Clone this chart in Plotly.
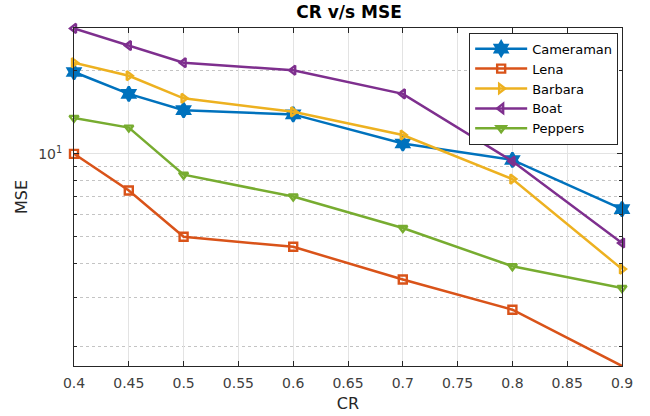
import math
import plotly.graph_objects as go

cr = [0.4, 0.45, 0.5, 0.6, 0.7, 0.8, 0.9]
cameraman = [19.8, 16.5, 14.4, 13.9, 10.9, 9.5, 6.3]
lena = [10.0, 7.36, 5.0, 4.6, 3.5, 2.72, 1.70]
barbara = [21.4, 19.2, 15.9, 14.2, 11.7, 8.1, 3.82]
boat = [28.5, 24.7, 21.4, 20.1, 16.5, 9.4, 4.75]
peppers = [13.5, 12.45, 8.4, 7.0, 5.38, 3.91, 3.26]

x_ticks = [0.4, 0.45, 0.5, 0.55, 0.6, 0.65, 0.7, 0.75, 0.8, 0.85, 0.9]
x_labels = ["0.4", "0.45", "0.5", "0.55", "0.6", "0.65", "0.7", "0.75", "0.8", "0.85", "0.9"]
y_major = [10]
y_major_labels = ["10<sup>1</sup>"]
y_minor = [2, 3, 4, 5, 6, 7, 8, 9, 20]

series = [
    ("Cameraman", cameraman, "#0072BD", "hexagram"),
    ("Lena", lena, "#D95319", "square-open"),
    ("Barbara", barbara, "#EDB120", "triangle-right-open"),
    ("Boat", boat, "#7E2F8E", "triangle-left-open"),
    ("Peppers", peppers, "#77AC30", "triangle-down-open"),
]

fig = go.Figure()
for name, vals, color, sym in series:
    fig.add_trace(go.Scatter(
        x=cr, y=vals, name=name, mode="lines+markers",
        line=dict(color=color, width=2.5),
        marker=dict(symbol=sym, size=8 if sym != "hexagram" else 11,
                    color=color, line=dict(color=color, width=2.4)),
        cliponaxis=False,
    ))

font_family = "DejaVu Sans, Verdana, sans-serif"
fig.update_layout(
    width=650, height=416,
    margin=dict(l=74, r=28, t=28, b=50),
    paper_bgcolor="white", plot_bgcolor="white",
    font=dict(family=font_family, size=14, color="#262626"),
    title=dict(text="<b>CR v/s MSE</b>", x=349 / 650,
               xanchor="center", xref="container", yref="container",
               y=1 - 12 / 416, yanchor="middle",
               font=dict(size=17, color="#000000", family=font_family)),
    legend=dict(x=0.993, y=0.986, xanchor="right", yanchor="top",
                bgcolor="white", bordercolor="#262626", borderwidth=1,
                font=dict(size=13, color="#000000"),
                tracegroupgap=0, itemwidth=52,
                itemsizing="trace"),
    showlegend=True,
)
fig.update_xaxes(
    range=[0.4, 0.9], tickvals=x_ticks, ticktext=x_labels,
    showgrid=True, gridcolor="#e3e3e3", gridwidth=1,
    ticks="inside", ticklen=5, tickcolor="#262626",
    showline=True, linecolor="#262626", linewidth=1, mirror="ticks",
    zeroline=False, ticklabelstandoff=4, automargin=False,
    title=dict(text="CR", standoff=8, font=dict(size=16)),
    tickfont=dict(size=14, color="#404040"),
)
fig.update_yaxes(
    type="log", range=[math.log10(1.70), math.log10(28.6)],
    tickvals=y_major, ticktext=y_major_labels,
    showgrid=True, gridcolor="#e3e3e3", gridwidth=1,
    ticks="inside", ticklen=5, tickcolor="#262626",
    minor=dict(tickvals=y_minor, showgrid=True, griddash="dot",
               gridcolor="#c4c4c4", ticks="inside", ticklen=3, tickcolor="#262626"),
    showline=True, linecolor="#262626", linewidth=1, mirror="ticks",
    zeroline=False, ticklabelstandoff=8, automargin=False,
    title=dict(text="MSE", standoff=6, font=dict(size=16)),
    tickfont=dict(size=14, color="#404040"),
)

fig.write_html("out.html")
